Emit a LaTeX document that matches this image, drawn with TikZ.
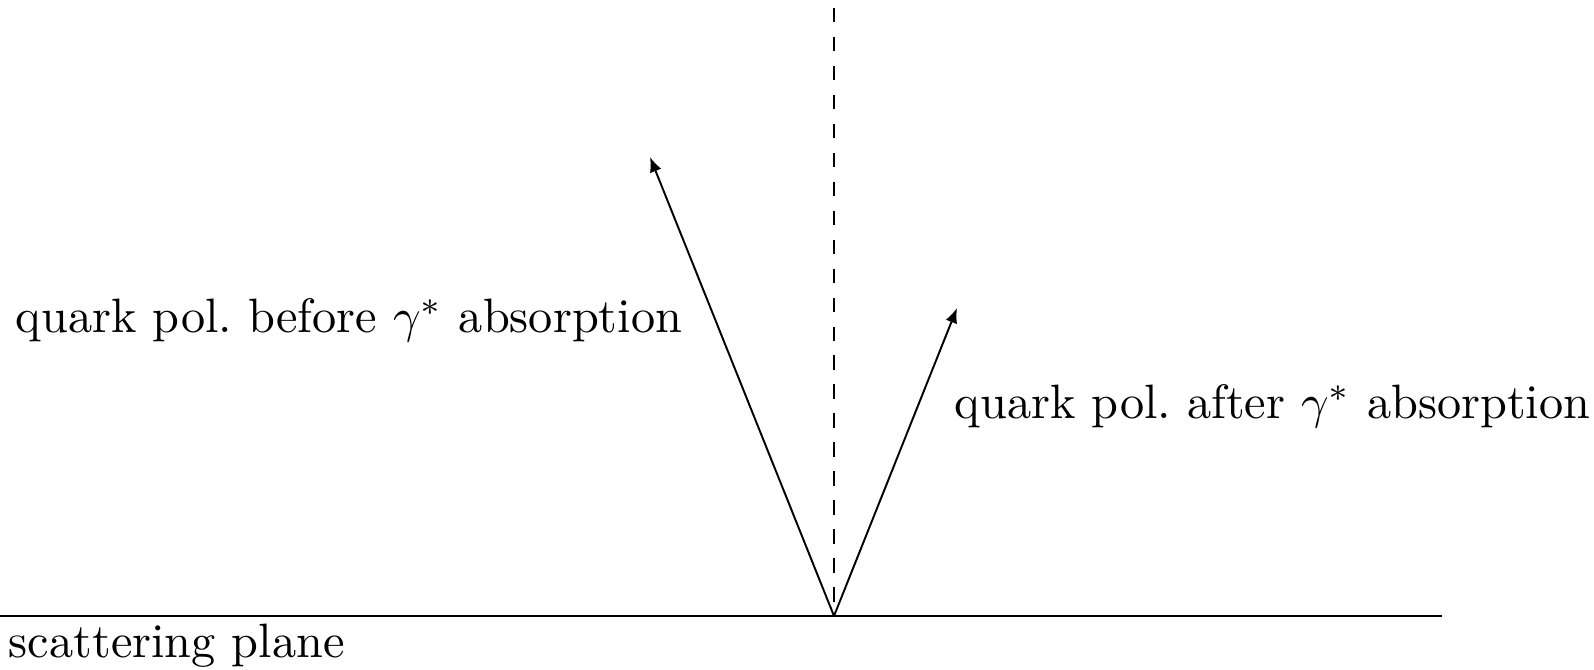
\documentclass[tikz,border=0pt]{standalone}
\usetikzlibrary{arrows.meta}
\begin{document}
\begin{tikzpicture}[x=0.2072pt,y=-0.2072pt,
  vec/.style={-{Latex[length=3.1pt,width=2.5pt]}, line width=0.4pt},
  lbl/.style={anchor=base west, inner sep=0pt, font=\normalsize}]
\useasboundingbox (0,0) rectangle (1594,670);
\coordinate (O) at (834,616);
\coordinate (top) at (834,8);
\coordinate (L) at (0,616);
\coordinate (R) at (1442,616);
\coordinate (A) at (650,157);
\coordinate (B) at (957,308);
\draw (L) -- (R);
\draw[dashed] (top) -- (O);
\draw[vec] (O) -- (A);
\draw[vec] (O) -- (B);
\node[lbl] (before) at (15,333) {quark pol.\ before $\gamma^*$ absorption};
\node[lbl] (after) at (954,419) {quark pol.\ after $\gamma^*$ absorption};
\node[lbl] (plane) at (8,658) {scattering plane};
\end{tikzpicture}
\end{document}
